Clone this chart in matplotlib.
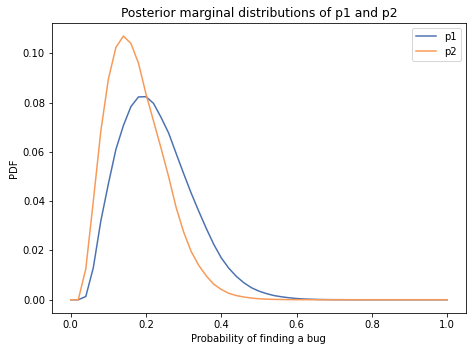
import numpy as np
import matplotlib
matplotlib.use("Agg")
import matplotlib.pyplot as plt

# Grid of probabilities
qs = np.linspace(0, 1, 51)

# Posterior marginal for p1
p1 = [0.0, 0.0, 0.0013, 0.0130, 0.0320, 0.0470, 0.0610, 0.0707, 0.0784, 0.0823,
      0.0824, 0.0797, 0.0740, 0.0677, 0.0594, 0.0512, 0.0433, 0.0360, 0.0290, 0.0225,
      0.0170, 0.0128, 0.0095, 0.0069, 0.0049, 0.0035, 0.0025, 0.0017, 0.0012, 0.0008,
      0.0005, 0.0003, 0.0002, 0.0001, 0.00006, 0.00003, 0.00002, 0.00001, 0.0, 0.0,
      0.0, 0.0, 0.0, 0.0, 0.0, 0.0, 0.0, 0.0, 0.0, 0.0, 0.0]

# Posterior marginal for p2
p2 = [0.0, 0.0, 0.0125, 0.0400, 0.0685, 0.0895, 0.1024, 0.1070, 0.1040, 0.0960,
      0.0835, 0.0725, 0.0615, 0.0500, 0.0375, 0.0275, 0.0196, 0.0140, 0.0097, 0.0063,
      0.0042, 0.0026, 0.0017, 0.0011, 0.0007, 0.0004, 0.00025, 0.00015, 0.0001, 0.00005,
      0.00003, 0.00002, 0.00001, 0.0, 0.0, 0.0, 0.0, 0.0, 0.0, 0.0,
      0.0, 0.0, 0.0, 0.0, 0.0, 0.0, 0.0, 0.0, 0.0, 0.0, 0.0]

fig = plt.figure(figsize=(472 / 72, 352 / 72), dpi=72)
ax = fig.add_axes([0.110, 0.111, 0.877, 0.824])

ax.plot(qs, p1, color="#4C72B0", lw=1.5, label="p1")
ax.plot(qs, p2, color="#F79A58", lw=1.5, label="p2")

ax.set_title("Posterior marginal distributions of p1 and p2", fontsize=12.4)
ax.set_xlabel("Probability of finding a bug", fontsize=10)
ax.set_ylabel("PDF", fontsize=10)
ax.tick_params(labelsize=10)
ax.legend(loc="upper right", fontsize=10)

fig.savefig("out.png", dpi=72)
